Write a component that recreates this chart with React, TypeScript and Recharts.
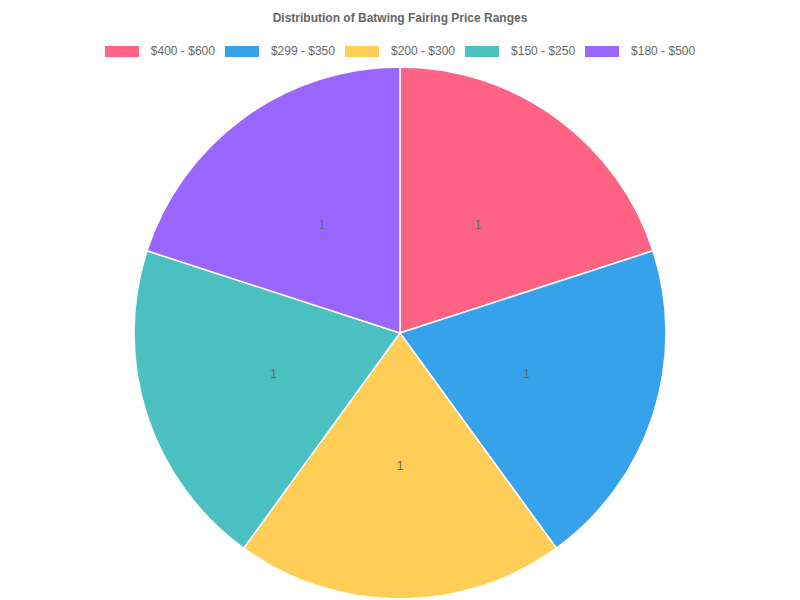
import React from 'react';
import { PieChart, Pie, Cell } from 'recharts';

const categories = ['$400 - $600', '$299 - $350', '$200 - $300', '$150 - $250', '$180 - $500'];
const counts = [1, 1, 1, 1, 1];
const colors = ['#FF6384', '#36A2EB', '#FFCE56', '#4BC0C0', '#9966FF'];

const data = categories.map((name, i) => ({ name, value: counts[i] }));

const RADIAN = Math.PI / 180;
const FONT = '"Liberation Sans", Arial, Helvetica, sans-serif';

const renderLabel = (props: any) => {
  const { cx, cy, midAngle, outerRadius, value } = props;
  const r = outerRadius * 0.5;
  const x = cx + r * Math.cos(-midAngle * RADIAN);
  const y = cy + r * Math.sin(-midAngle * RADIAN);
  return (
    <text x={x} y={y} fill="#666" fontSize={12} fontFamily={FONT} textAnchor="middle" dominantBaseline="central">
      {value}
    </text>
  );
};

const App: React.FC = () => {
  return (
    <div style={{ position: 'absolute', left: 0, top: 0, width: 800, height: 600, background: '#fff', fontFamily: FONT }}>
      <div style={{ position: 'absolute', left: 0, top: 0, width: 800, height: 600 }}>
        <PieChart width={800} height={600} margin={{ top: 0, right: 0, bottom: 0, left: 0 }}>
          <Pie
            data={data}
            dataKey="value"
            nameKey="name"
            cx={400}
            cy={333}
            outerRadius={266}
            startAngle={90}
            endAngle={-270}
            stroke="#fff"
            strokeWidth={1.5}
            label={renderLabel}
            labelLine={false}
            isAnimationActive={false}
          >
            {data.map((d, i) => (
              <Cell key={d.name} fill={colors[i]} />
            ))}
          </Pie>
        </PieChart>
      </div>
      <div
        style={{
          position: 'absolute', top: 11, left: 0, width: 800, textAlign: 'center',
          fontSize: 12, fontWeight: 'bold', color: '#666', lineHeight: '14px',
        }}
      >
        Distribution of Batwing Fairing Price Ranges
      </div>
      <div
        style={{
          position: 'absolute', top: 44, left: 0, width: 800, display: 'flex',
          justifyContent: 'center', fontSize: 12, color: '#666', lineHeight: '14px',
        }}
      >
        {categories.map((c, i) => (
          <div key={c} style={{ display: 'flex', alignItems: 'center', marginRight: i < categories.length - 1 ? 10 : 0 }}>
            <span style={{ display: 'inline-block', width: 34, height: 11, background: colors[i], marginRight: 12 }} />
            <span>{c}</span>
          </div>
        ))}
      </div>
    </div>
  );
};

export default App;
